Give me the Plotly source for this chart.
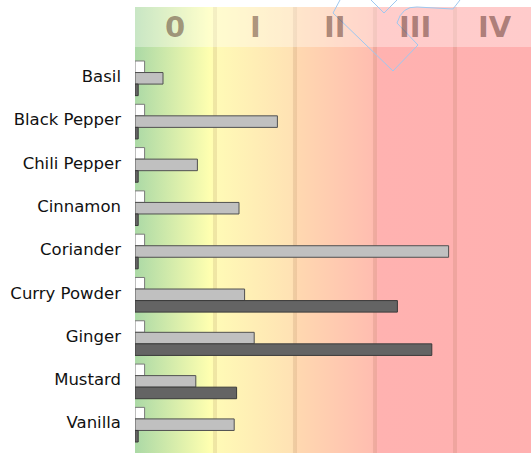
import base64
import plotly.graph_objects as go

# ---- data ----
categories = ["Basil", "Black Pepper", "Chili Pepper", "Cinnamon", "Coriander",
              "Curry Powder", "Ginger", "Mustard", "Vanilla"]
series_a = [0.12, 0.12, 0.12, 0.12, 0.12, 0.12, 0.12, 0.12, 0.12]
series_b = [0.35, 1.78, 0.78, 1.30, 3.92, 1.37, 1.49, 0.76, 1.24]
series_c = [0.04, 0.04, 0.04, 0.04, 0.04, 3.28, 3.71, 1.27, 0.04]
band_labels = ["0", "I", "II", "III", "IV"]

W, H = 531, 453
L, T = 135, 7
PW, PH = W - L, H - T


def px(x):
    return (x - L) / PW


def py(y):
    return 1 - (y - T) / PH


fig = go.Figure()
styles = [("#ffffff", "#7a7a7a"), ("#c0c0c0", "#505050"), ("#646464", "#3a3a3a")]
for vals, (fc, lc) in zip([series_a, series_b, series_c], styles):
    fig.add_trace(go.Bar(
        y=categories, x=vals, orientation="h",
        marker=dict(color=fc, line=dict(color=lc, width=1)),
        showlegend=False, hoverinfo="skip"))

# gradient background via svg image
svg = (
    '<svg xmlns="http://www.w3.org/2000/svg" width="396" height="446" preserveAspectRatio="none">'
    '<defs><linearGradient id="g" x1="0" y1="0" x2="1" y2="0">'
    '<stop offset="0" stop-color="#abd9a6"/>'
    '<stop offset="0.19" stop-color="#ffffb0"/>'
    '<stop offset="0.205" stop-color="#fffab6"/>'
    '<stop offset="0.395" stop-color="#ffe2b4"/>'
    '<stop offset="0.41" stop-color="#ffd8b0"/>'
    '<stop offset="0.595" stop-color="#ffbeb0"/>'
    '<stop offset="0.615" stop-color="#ffb2b0"/>'
    '<stop offset="1" stop-color="#ffb0b0"/>'
    '</linearGradient></defs>'
    '<rect x="0" y="0" width="396" height="446" fill="url(#g)"/></svg>'
)
src = "data:image/svg+xml;base64," + base64.b64encode(svg.encode()).decode()
fig.add_layout_image(dict(source=src, xref="paper", yref="paper", x=0, y=1,
                          sizex=1, sizey=1, sizing="stretch", layer="below",
                          xanchor="left", yanchor="top"))

shapes = []
# band separators
for k in range(1, 5):
    shapes.append(dict(type="line", xref="x", yref="paper", x0=k, x1=k, y0=0, y1=1,
                       line=dict(color="rgba(120,80,40,0.12)", width=4), layer="below"))
# lighter header strip
shapes.append(dict(type="rect", xref="paper", yref="paper", x0=0, x1=1,
                   y0=py(47), y1=1, fillcolor="rgba(255,255,255,0.35)",
                   line=dict(width=0), layer="below"))
# decorative outline
pts = "M {:.4f},{:.4f} L {:.4f},{:.4f} L {:.4f},{:.4f} L {:.4f},{:.4f} L {:.4f},{:.4f} Q {:.4f},{:.4f} {:.4f},{:.4f} L {:.4f},{:.4f} L {:.4f},{:.4f}".format(
    px(340), py(0), px(333), py(13), px(393), py(71), px(418), py(45), px(397), py(23),
    px(402), py(6), px(417), py(7), px(453), py(9), px(460), py(0))
shapes.append(dict(type="path", xref="paper", yref="paper", path=pts,
                   line=dict(color="#9ec8f0", width=1), layer="above"))
pv = "M {:.4f},{:.4f} L {:.4f},{:.4f} L {:.4f},{:.4f}".format(
    px(371), py(0), px(384), py(13), px(397), py(0))
shapes.append(dict(type="path", xref="paper", yref="paper", path=pv,
                   line=dict(color="#9ec8f0", width=1), layer="above"))

annotations = []
for i, lab in enumerate(band_labels):
    annotations.append(dict(x=i + 0.5, xref="x", y=py(27), yref="paper", text=lab,
                            showarrow=False, xanchor="center", yanchor="middle",
                            font=dict(family="DejaVu Sans", size=29, color="rgba(70,30,20,0.45)", weight="bold")))

fig.update_layout(
    width=W, height=H,
    margin=dict(l=L, r=0, t=T, b=0),
    paper_bgcolor="white", plot_bgcolor="rgba(0,0,0,0)",
    barmode="group", bargap=0.2, bargroupgap=0,
    shapes=shapes, annotations=annotations,
    xaxis=dict(range=[0, PW / 80], showgrid=False, zeroline=False, showticklabels=False,
               showline=False, fixedrange=True),
    yaxis=dict(type="category", range=[8.654, -1.647], showgrid=False, zeroline=False,
               showline=False, ticks="", ticklabelstandoff=13, ticklabelshift=2,
               fixedrange=True,
               tickfont=dict(family="DejaVu Sans", size=16.5, color="#111")),
    font=dict(family="DejaVu Sans"),
)

fig.write_html("out.html", config={"displayModeBar": False},
               post_script="document.body.style.margin='0';document.body.style.padding='0';")
